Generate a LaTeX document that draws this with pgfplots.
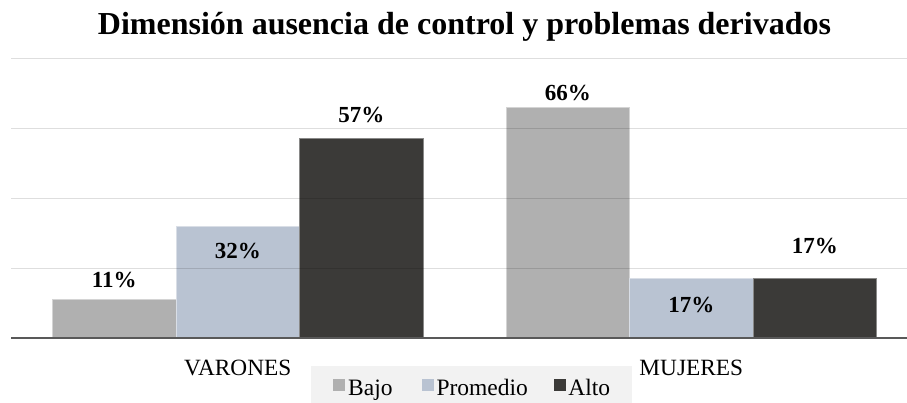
\documentclass[border=0pt]{standalone}
\usepackage{pgfplots}
\usepackage{pgfplotstable}
\pgfplotsset{compat=1.18}
\usepackage{fontspec}
\setmainfont{Liberation Serif}
\definecolor{cbajo}{HTML}{B0B0B0}
\definecolor{cprom}{HTML}{B9C3D2}
\definecolor{calto}{HTML}{3B3A38}
\definecolor{caxis}{HTML}{595959}
\definecolor{legbg}{HTML}{F2F2F2}

% x: 0 = VARONES, 1 = MUJERES; dy = label offset from bar top (pt)
\pgfplotstableread{
x y dy
0 11 20
1 66 14
}\bajo
\pgfplotstableread{
x y dy
0 32 -25.5
1 17 -26.5
}\promedio
\pgfplotstableread{
x y dy
0 57 23.5
1 17 32.5
}\alto

\begin{document}
\begin{tikzpicture}
\useasboundingbox (0,0) rectangle (907bp,403bp);
\node[anchor=base, font=\fontsize{32bp}{38bp}\selectfont\bfseries] at (464.5bp,368bp)
  {Dimensión ausencia de control y problemas derivados};
\begin{axis}[
  at={(11bp,65bp)}, anchor=south west,
  scale only axis, width=896bp, height=280bp,
  xmin=-0.5, xmax=1.4757, ymin=0, ymax=80,
  ybar=0pt, bar width=123.5bp,
  axis on top, clip=false,
  axis x line*=bottom, axis y line*=left,
  x axis line style={draw=caxis, line width=2.5bp, -},
  y axis line style={draw=none},
  xtick={0,1}, xticklabels={VARONES,MUJERES},
  xticklabel style={anchor=center, yshift=-29.5bp, font=\fontsize{23.3bp}{28bp}\selectfont},
  ytick={60,80}, yticklabels={},
  extra y ticks={20,40}, extra y tick labels={},
  major tick length=0pt,
  ymajorgrids,
  major grid style={draw=black, opacity=0.13, line width=1bp},
  extra y tick style={grid style={draw=black, opacity=0.3, line width=1bp}},
  nodes near coords={\pgfmathprintnumber{\pgfplotspointmeta}\%},
  visualization depends on={\thisrow{dy}\as\dy},
  every node near coord/.append style={anchor=center, yshift=\dy,
    font=\fontsize{23bp}{27bp}\selectfont\bfseries, text=black},
  /pgf/number format/assume math mode=true,
  legend columns=-1,
  legend image code/.code={\fill[#1, draw=none] (0bp,-3bp) rectangle (12bp,9bp);},
  legend style={at={(axis description cs:0.3348,-0.1)}, anchor=north west,
    draw=none, fill=legbg, inner xsep=22bp, inner ysep=13bp,
    font=\fontsize{23.5bp}{28bp}\selectfont, nodes={inner sep=0pt},
    /tikz/column 1/.style={column sep=3bp},
    /tikz/column 2/.style={column sep=29.5bp},
    /tikz/column 3/.style={column sep=2.5bp},
    /tikz/column 4/.style={column sep=26bp},
    /tikz/column 5/.style={column sep=2.5bp}},
]
\addplot[fill=cbajo, draw=cbajo!55!white, line width=1bp] table[x=x, y=y] {\bajo};
\addlegendentry{Bajo}
\addplot[fill=cprom, draw=cprom!55!white, line width=1bp] table[x=x, y=y] {\promedio};
\addlegendentry{Promedio}
\addplot[fill=calto, draw=calto!60!white, line width=1bp] table[x=x, y=y] {\alto};
\addlegendentry{Alto}
\end{axis}
\end{tikzpicture}
\end{document}
